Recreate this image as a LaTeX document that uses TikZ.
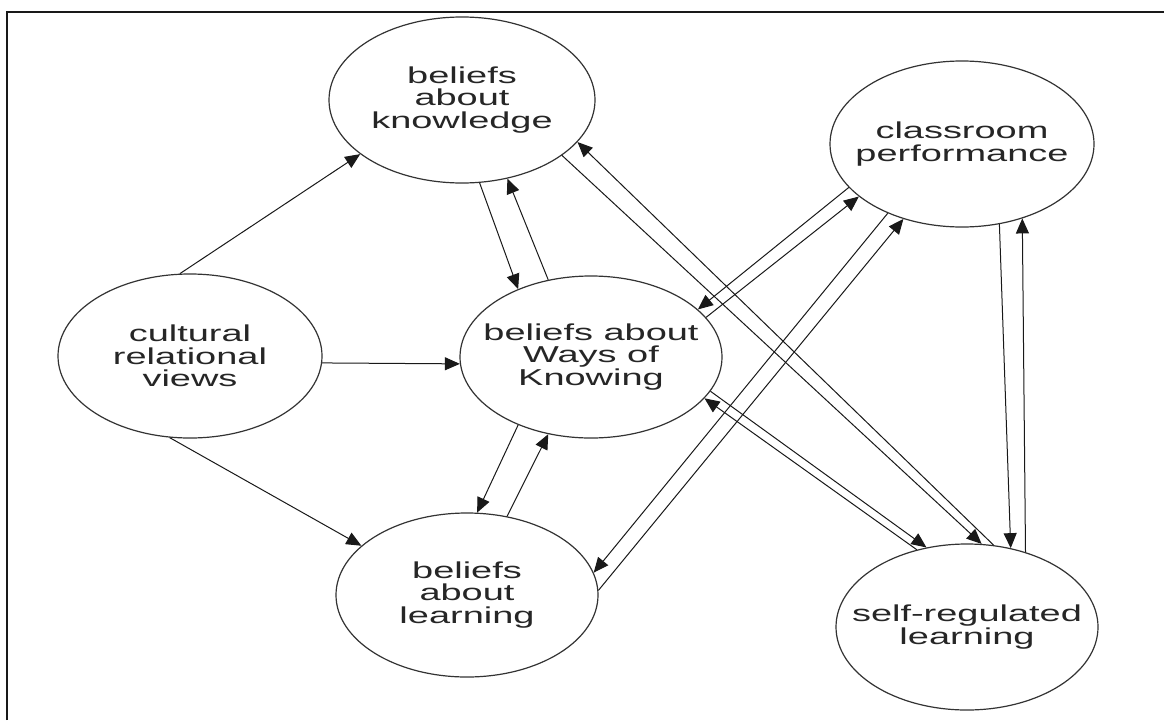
\documentclass[tikz,border=0pt]{standalone}
\usepackage{fontspec}
\newfontfamily\labfont[FakeStretch=1.65]{Liberation Sans}
\usetikzlibrary{arrows.meta,shapes.geometric}
\begin{document}
\begin{tikzpicture}[x=1pt,y=-1pt,
  ell/.style={ellipse, draw=black!80, line width=1.2pt, inner sep=0pt},
  lab/.style={font={\labfont\fontsize{23pt}{22.5pt}\selectfont}, text=black!85, align=center, inner sep=0pt},
  conn/.style={draw=black!90, line width=1pt, -{Triangle[length=15pt,width=13pt]}}]
\useasboundingbox (0,0) rectangle (1164,720);
\fill[white] (0,0) rectangle (1164,720);
% frame
\draw[line width=2.5pt, black!90] (7,720) -- (7,12) -- (1164,12);
% ellipses
\node[ell, minimum width=266pt, minimum height=166pt] (k) at (462,100) {};
\node[ell, minimum width=264pt, minimum height=164pt] (c) at (190,356) {};
\node[ell, minimum width=262pt, minimum height=162pt] (w) at (591,357) {};
\node[ell, minimum width=262pt, minimum height=164pt] (l) at (467,595) {};
\node[ell, minimum width=264pt, minimum height=166pt] (p) at (962,144) {};
\node[ell, minimum width=262pt, minimum height=166pt] (s) at (967,627) {};
% labels
\node[lab] (kt) at (k) {beliefs\\about\\knowledge};
\node[lab] (ct) at (c) {cultural\\relational\\views};
\node[lab] (wt) at (w) {beliefs about\\Ways of\\Knowing};
\node[lab] (lt) at (l) {beliefs\\about\\learning};
\node[lab] (pt) at (p) {classroom\\performance};
\node[lab] (st) at (s) {self-regulated\\learning};
% connectors
\draw[conn] (c.97) -- (k.208);
\draw[conn] (c.-3) -- (w.183);
\draw[conn] (c.256) -- (l.155);
\draw[conn] (k.-78) -- (w.137);
\draw[conn] (w.119) -- (k.-60);
\draw[conn] (w.223) -- (l.83);
\draw[conn] (l.63) -- (w.241);
\draw[conn] (k.-29) -- (s.80);
\draw[conn] (s.72) -- (k.-20);
\draw[conn] (w.-16) -- (s.117);
\draw[conn] (s.123) -- (w.-20);
\draw[conn] (p.-65) -- (s.61);
\draw[conn] (s.52) -- (p.-51);
\draw[conn] (p.201) -- (w.24);
\draw[conn] (w.19) -- (p.207);
\draw[conn] (p.223) -- (l.10);
\draw[conn] (l.2) -- (p.232);
\end{tikzpicture}
\end{document}
